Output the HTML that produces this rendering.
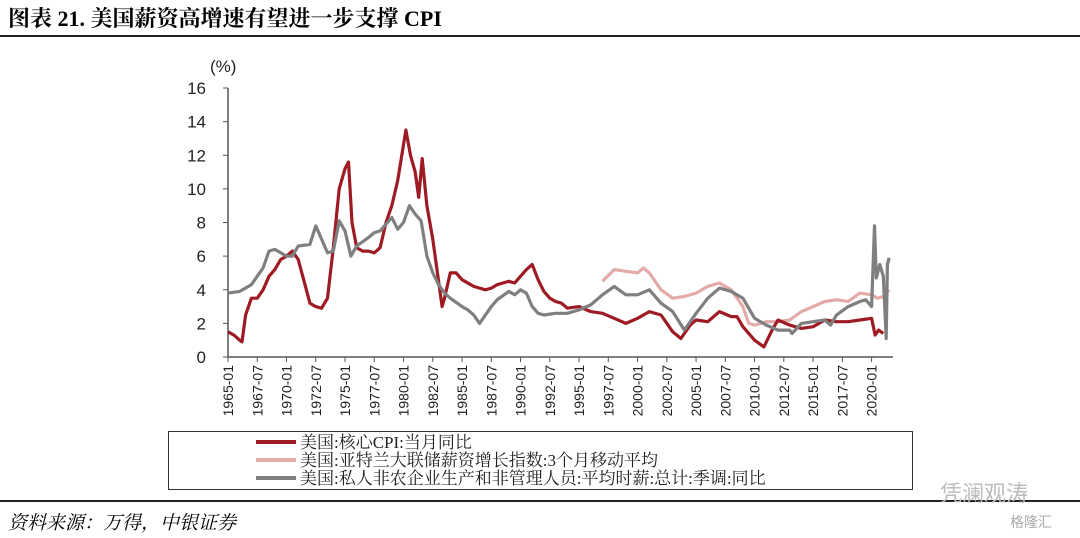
<!DOCTYPE html>
<html><head><meta charset="utf-8"><style>
body{margin:0;background:#fff;width:1080px;height:538px;overflow:hidden;position:relative;font-family:"Liberation Serif","Noto Serif CJK SC",serif}
.t{position:absolute}
</style></head><body>
<div class="t" style="left:8px;top:2px;font-size:22px;font-weight:bold;">图表 21. 美国薪资高增速有望进一步支撑 CPI</div>
<div class="t" style="left:0;top:35px;width:1080px;height:2px;background:#222"></div>
<svg class="t" style="left:0;top:0" width="1080" height="538" id="chart"></svg>
<div class="t" style="left:168px;top:431px;width:743px;height:57px;border:1px solid #333;"></div>
<div class="t" style="left:0;top:500px;width:1080px;height:2px;background:#222"></div>
<div class="t" style="left:8px;top:508px;font-size:19px;font-style:italic;">资料来源：万得，中银证券</div>
<div class="t" style="left:940px;top:476px;font-size:22px;color:#bbb;font-family:'Noto Sans CJK SC',sans-serif">凭澜观涛</div>
<div class="t" style="left:1010px;top:512px;font-size:14px;color:#aaa;font-family:'Noto Sans CJK SC',sans-serif">格隆汇</div>
<script>
const yTicks=[0,2,4,6,8,10,12,14,16];
const xLabels=["1965-01","1967-07","1970-01","1972-07","1975-01","1977-07","1980-01","1982-07","1985-01","1987-07","1990-01","1992-07","1995-01","1997-07","2000-01","2002-07","2005-01","2007-07","2010-01","2012-07","2015-01","2017-07","2020-01"];
const legendNames=["美国:核心CPI:当月同比","美国:亚特兰大联储薪资增长指数:3个月移动平均","美国:私人非农企业生产和非管理人员:平均时薪:总计:季调:同比"];
const coreT=[1965,1965.5,1966,1966.2,1966.5,1967,1967.5,1968,1968.5,1969,1969.5,1970,1970.5,1971,1971.5,1972,1972.5,1973,1973.5,1974,1974.5,1975,1975.3,1975.6,1976,1976.5,1977,1977.5,1978,1978.5,1979,1979.5,1980.2,1980.6,1981,1981.3,1981.6,1982,1982.5,1983,1983.3,1983.5,1984,1984.5,1985,1986,1986.5,1987,1987.5,1988,1988.5,1989,1989.5,1990,1990.5,1991,1991.5,1992,1992.5,1993,1993.5,1994,1995,1996,1997,1998,1999,2000,2001,2002,2003,2003.7,2004.5,2005,2006,2007,2008,2008.5,2009,2010,2010.8,2011.5,2012,2013,2014,2015,2016,2017,2018,2019,2020,2020.3,2020.6,2021];
const coreV=[1.5,1.3,1.0,0.9,2.5,3.5,3.5,4.0,4.8,5.2,5.8,6.0,6.3,5.8,4.5,3.2,3.0,2.9,3.5,6.5,10,11.2,11.6,8,6.5,6.3,6.3,6.2,6.5,8,9,10.5,13.5,12,11,9.5,11.8,9,7,4.5,3,3.5,5,5,4.6,4.2,4.1,4.0,4.1,4.3,4.4,4.5,4.4,4.8,5.2,5.5,4.6,3.9,3.5,3.3,3.2,2.9,3.0,2.7,2.6,2.3,2.0,2.3,2.7,2.5,1.5,1.1,1.9,2.2,2.1,2.7,2.4,2.4,1.8,1.0,0.6,1.6,2.2,1.9,1.7,1.8,2.2,2.1,2.1,2.2,2.3,1.3,1.6,1.4];
const atlT=[1997,1998,1999,2000,2000.5,2001,2002,2003,2004,2005,2006,2007,2008,2009,2009.5,2010,2011,2012,2013,2014,2015,2016,2017,2018,2019,2020,2020.5,2021,2021.5];
const atlV=[4.5,5.2,5.1,5.0,5.3,5.0,4.0,3.5,3.6,3.8,4.2,4.4,4.0,3.0,2.0,1.9,2.1,2.1,2.2,2.7,3.0,3.3,3.4,3.3,3.8,3.7,3.5,3.6,4.0];
const ahT=[1965,1966,1967,1968,1968.5,1969,1970,1970.5,1971,1972,1972.5,1973,1973.5,1974,1974.5,1975,1975.5,1976,1977,1977.5,1978,1979,1979.5,1980,1980.5,1981,1981.5,1982,1982.5,1983,1983.5,1984,1985,1985.5,1986,1986.5,1987,1987.5,1988,1989,1989.5,1990,1990.5,1991,1991.5,1992,1993,1994,1995,1996,1997,1998,1999,2000,2001,2002,2003,2004,2005,2006,2007,2008,2009,2010,2011,2012,2013,2013.2,2014,2015,2016,2016.5,2017,2018,2019,2019.5,2020,2020.25,2020.4,2020.7,2021,2021.25,2021.35,2021.5];
const ahV=[3.8,3.9,4.3,5.3,6.3,6.4,6.0,6.0,6.6,6.7,7.8,7.0,6.2,6.3,8.1,7.5,6.0,6.6,7.1,7.4,7.5,8.3,7.6,8.0,9.0,8.5,8.1,6.0,5.0,4.3,3.8,3.5,3.0,2.8,2.5,2.0,2.5,3.0,3.4,3.9,3.7,4.0,3.8,3.0,2.6,2.5,2.6,2.6,2.8,3.1,3.7,4.2,3.7,3.7,4.0,3.2,2.7,1.6,2.6,3.5,4.1,3.9,3.5,2.3,1.9,1.6,1.6,1.4,2.0,2.1,2.2,1.9,2.5,3.0,3.3,3.4,3.0,7.8,4.7,5.5,4.8,1.1,5.5,5.9];
const NS="http://www.w3.org/2000/svg";
const svg=document.getElementById('chart');
const X0=228,X1=893,Y0=357,Y1=88,T0=1965,T1=2021.83;
const xs=t=>X0+(t-T0)/(T1-T0)*(X1-X0);
const ys=v=>Y0-(v-0)/(16-0)*(Y0-Y1);
function mk(tag,at){const e=document.createElementNS(NS,tag);for(const k in at)e.setAttribute(k,at[k]);svg.appendChild(e);return e;}
let e=mk('line',{x1:X0,y1:Y1,x2:X0,y2:Y0,stroke:'#555','stroke-width':1.5});


e=mk('line',{x1:X0,y1:Y0,x2:X1,y2:Y0,stroke:'#555','stroke-width':1.5});


e=mk('text',{x:210,y:72,'font-size':17,'font-family':'Liberation Sans, sans-serif',fill:'#222'});e.textContent='(%)';


yTicks.forEach(v=>{
 mk('line',{x1:X0-5,y1:ys(v),x2:X0,y2:ys(v),stroke:'#555'});
 const t=mk('text',{x:206,y:ys(v)+6,'text-anchor':'end','font-size':17,'font-family':'Liberation Sans, sans-serif',fill:'#222'});t.textContent=v;
 
 
});
xLabels.forEach((l,i)=>{
 const yr=+l.slice(0,4)+(l.slice(5)==='07'?0.5:0);
 const x=xs(yr);
 mk('line',{x1:x,y1:Y0,x2:x,y2:Y0+5,stroke:'#555'});
 const t=mk('text',{x:0,y:0,transform:`translate(${x+5},${Y0+8}) rotate(-90)`,'text-anchor':'end','font-size':14,'font-family':'Liberation Sans, sans-serif',fill:'#222'});t.textContent=l;
 
 
});
function series(T,V,color,name){
 const d=T.map((t,i)=>(i?'L':'M')+xs(t).toFixed(1)+','+ys(V[i]).toFixed(1)).join('');
 const p=mk('path',{d:d,fill:'none',stroke:color,'stroke-width':3.2,'stroke-linejoin':'round'});
 
 
}
series(atlT,atlV,'#e3aaa8','atlanta-wage-line');
series(coreT,coreV,'#9e1b24','core-cpi-line');
series(ahT,ahV,'#7f7f7f','hourly-earnings-line');
const lc=['#9e1b24','#e3aaa8','#7f7f7f'];
legendNames.forEach((n,i)=>{
 const y=442+i*18;
 const l=mk('line',{x1:256,y1:y,x2:296,y2:y,stroke:lc[i],'stroke-width':4});
 
 
 const t=mk('text',{x:300,y:y+6,'font-size':17,'font-family':'Liberation Serif, Noto Serif CJK SC, serif',fill:'#222'});t.textContent=n;
 
 
});
</script>
</body></html>
